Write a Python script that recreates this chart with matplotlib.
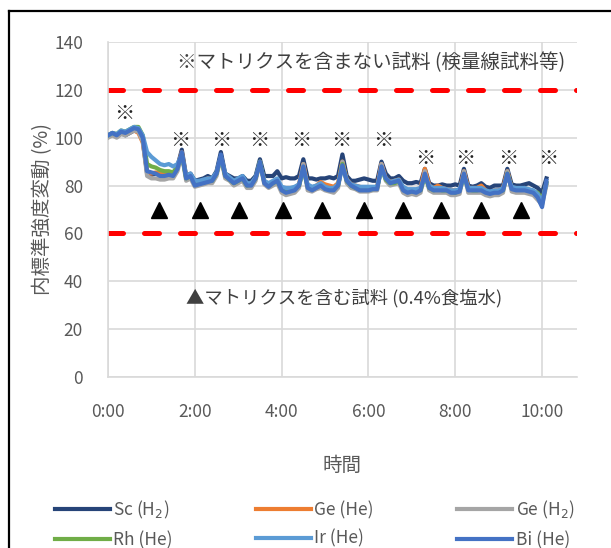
import matplotlib.pyplot as plt
from matplotlib.lines import Line2D

plt.rcParams['font.family'] = ['Noto Sans CJK JP', 'DejaVu Sans']

# time in hours, one reading every 0.1 h
hours = [round(i * 0.1, 1) for i in range(102)]

sc_h2 = [101, 101.5, 100.5, 102, 101, 102, 103, 103, 99,
         85, 84.5, 85, 84.5, 85, 85, 84.5, 88, 95, 84, 85,
         82, 82.5, 83, 84, 83, 86, 94, 85, 84, 83,
         83, 84, 82, 82, 84, 91, 84, 84, 84, 86,
         83, 83.5, 83, 83, 84, 91, 83, 83, 82.5, 83,
         83, 83.5, 83, 84, 93, 84, 82, 82, 82.5, 83,
         82.5, 82, 82, 90, 85, 83, 83, 84, 82, 81,
         81, 81.5, 81, 87, 81, 80, 80, 80.5, 80, 80,
         80.5, 80, 87, 80, 79.5, 80, 81, 79.5, 79, 80,
         80, 80, 87, 80.5, 80, 80, 80.5, 81, 80, 79,
         77, 83]
ge_he = [100.5, 101.5, 101, 102, 101.5, 102.5, 103, 102, 98,
         86, 85, 85.5, 85, 85, 85.5, 85, 88, 94, 83.5, 84,
         81, 81, 82, 83, 82, 85, 92, 84, 83, 81.5,
         82, 83, 80.5, 80.5, 83, 89, 82, 80, 81.5, 82,
         79, 78, 78.5, 79, 80.5, 89, 80, 79, 80, 81.5,
         80.5, 80, 79.5, 81, 90, 82.5, 80.5, 80, 79.5, 79,
         79, 79, 79.5, 89, 83, 81.5, 82, 82.5, 79, 78,
         78, 78, 79, 87, 80, 79, 80, 79, 78.5, 78,
         78, 78, 86, 79, 79, 79, 80, 78, 77, 78,
         78, 79, 86, 79, 79, 78.5, 79, 78, 77.5, 76,
         73, 81]
ge_h2 = [100, 101, 100, 101.5, 101, 102, 103, 102.5, 98.5,
         84, 83, 83, 82.5, 82.5, 83, 83, 86, 93, 82, 83,
         79.5, 80, 80.5, 81, 81, 84, 92, 83, 82, 80,
         81, 82, 79, 79, 82, 90, 80.5, 79, 80, 81,
         77, 76, 76.5, 77, 79, 89, 78, 77.5, 78.5, 79,
         78, 77.5, 77, 79, 90, 81, 79, 78.5, 77.5, 77.5,
         77.5, 78, 78, 89, 82, 80, 80.5, 81, 77, 76,
         76.5, 76, 77, 86, 78, 77, 77, 77, 77, 76,
         76, 76.5, 86, 77, 77, 77, 77, 76, 75.5, 76,
         76, 77, 86, 77.5, 77, 77, 77, 76.5, 76, 74,
         72, 80]
rh_he = [101, 102, 101.5, 103, 102.5, 103.5, 104.5, 104.5, 101,
         89, 88, 87.5, 86.5, 86, 86, 85.5, 88, 93, 83, 84,
         81, 81, 81.5, 82, 82, 85, 92, 84, 82.5, 81,
         82, 83, 80, 80.5, 83, 90, 81.5, 80, 81, 82,
         78.5, 77.5, 78, 78.5, 80, 87, 79.5, 78.5, 79.5, 80.5,
         79, 78.5, 78.5, 80, 89, 82, 80, 79, 78.5, 78.5,
         78.5, 78.5, 79, 87, 82.5, 81, 81, 82, 78.5, 77.5,
         77.5, 77.5, 78, 84, 79, 78, 78.5, 78, 78, 77.5,
         77, 78, 84, 78.5, 78, 78, 78.5, 77.5, 77, 77.5,
         77.5, 78, 85, 79, 78.5, 78.5, 78.5, 78, 77.5, 77,
         74, 81]
ir_he = [101, 102, 101.5, 103, 102.5, 103.5, 104.5, 104, 101,
         94, 92, 90.5, 89, 88.5, 89, 88, 89, 93, 84, 85,
         82, 82, 82.5, 83, 83, 85.5, 92, 85, 83.5, 82,
         83, 84, 81, 81, 83.5, 89, 82, 81, 82, 83,
         79.5, 79, 79, 79.5, 80.5, 87, 80.5, 79.5, 80, 81,
         79.5, 79, 79, 80.5, 88, 82.5, 80.5, 80, 79.5, 79.5,
         79.5, 79.5, 79.5, 87, 83, 81.5, 82, 82.5, 79.5, 78.5,
         78.5, 78.5, 79, 84, 80, 79, 79, 79, 78.5, 78,
         78, 78.5, 84, 79, 79, 79, 79, 78, 77.5, 78,
         78, 79, 84, 79.5, 79, 79, 79, 78.5, 78, 76.5,
         73, 81]
bi_he = [101, 102, 101, 102.5, 102, 103, 104, 103.5, 100,
         86, 85.5, 85, 84, 84, 84.5, 84, 87, 94, 83, 84,
         80, 80.5, 81, 81.5, 82, 85, 93, 84, 82.5, 81,
         82, 83, 80, 80, 83, 90, 81, 79.5, 81, 82,
         78, 77, 77.5, 78, 80, 88, 79, 78, 79, 80,
         78.5, 78, 78, 80, 88.5, 82, 80, 79, 78, 78,
         78, 78.5, 78.5, 88, 83, 81, 81.5, 82, 78, 77,
         77.5, 77, 78, 85, 79, 78, 78, 78, 78, 77,
         77, 77.5, 85, 78, 78, 78, 78, 77, 76.5, 77,
         77, 78, 85, 78.5, 78, 78, 78, 77.5, 77, 75,
         71, 82]

series_names = ['Sc (H$_2$)', 'Ge (He)', 'Ge (H$_2$)', 'Rh (He)', 'Ir (He)', 'Bi (He)']
series_values = [sc_h2, ge_he, ge_h2, rh_he, ir_he, bi_he]
series_colors = ['#264478', '#ED7D31', '#A5A5A5', '#70AD47', '#5B9BD5', '#4472C4']

# marks for calibration samples (※) and matrix samples (▲)
ref_hours = [0.37, 1.66, 2.62, 3.49, 4.46, 5.38, 6.34, 7.31, 8.23, 9.22, 10.14]
ref_levels = [110, 99, 99, 99, 99, 99, 99, 91.5, 91.5, 91.5, 91.5]
tri_hours = [1.17, 2.11, 3.01, 4.02, 4.94, 5.89, 6.80, 7.68, 8.60, 9.52]
tri_levels = [70] * 10

limits = [120, 60]

x_ticks = [0, 2, 4, 6, 8, 10]
x_labels = ['0:00', '2:00', '4:00', '6:00', '8:00', '10:00']
y_ticks = [0, 20, 40, 60, 80, 100, 120, 140]

fig = plt.figure(figsize=(6.11, 5.48), dpi=100)
ax = fig.add_axes([0.1768, 0.312, 0.7672, 0.6114])

grey = '#595959'
ax.set_xlim(0, 10.8)
ax.set_ylim(0, 140)
ax.set_xticks(x_ticks)
ax.set_xticklabels(x_labels)
ax.set_yticks(y_ticks)
ax.grid(True, color='#D9D9D9', lw=1.2)
ax.set_axisbelow(True)
for s in ['top', 'right']:
    ax.spines[s].set_visible(False)
for s in ['left', 'bottom']:
    ax.spines[s].set_color('#D9D9D9')
    ax.spines[s].set_linewidth(1.2)
ax.tick_params(length=0, labelsize=12.5, labelcolor=grey)
ax.tick_params(axis='x', pad=19)
ax.tick_params(axis='y', pad=18)

for lv in limits:
    ax.axhline(lv, color='#FF0000', lw=3.6, dashes=(3, 4.2),
               dash_capstyle='round', zorder=2)

handles = []
for name, vals, col in zip(series_names, series_values, series_colors):
    ln, = ax.plot(hours, vals, color=col, lw=3, label=name, zorder=3,
                  solid_joinstyle='round')
    handles.append(ln)

for h, lv in zip(ref_hours, ref_levels):
    ax.text(h, lv, '※', ha='center', va='center', fontsize=14.5, color='#222222')
ax.plot(tri_hours, tri_levels, linestyle='none', marker='^', ms=12,
        color='black', zorder=4)

ax.text(1.59, 131.5, '※マトリクスを含まない試料 (検量線試料等)', ha='left',
        va='center', fontsize=14, color='#404040')
ax.text(1.8, 33, '▲マトリクスを含む試料 (0.4%食塩水)', ha='left',
        va='center', fontsize=13.2, color='#404040')

ax.set_ylabel('内標準強度変動 (%)', fontsize=14, color=grey, labelpad=1)
ax.set_xlabel('時間', fontsize=14, color=grey, labelpad=24)

order = [0, 3, 1, 4, 2, 5]
fig.legend([handles[i] for i in order], [series_names[i] for i in order],
           ncol=3, frameon=False, loc='upper left',
           bbox_to_anchor=(0.09, 0.09), fontsize=12.5, labelcolor=grey,
           handlelength=3.16, handletextpad=0.2, columnspacing=4.8,
           labelspacing=0.6, borderpad=0, borderaxespad=0)

# outer frame (left and top edges)
fig.add_artist(Line2D([0.014, 0.014], [0, 0.98], color='black', lw=1.6))
fig.add_artist(Line2D([0.014, 1.0], [0.98, 0.98], color='black', lw=1.6))

fig.savefig('out.png', dpi=100)
